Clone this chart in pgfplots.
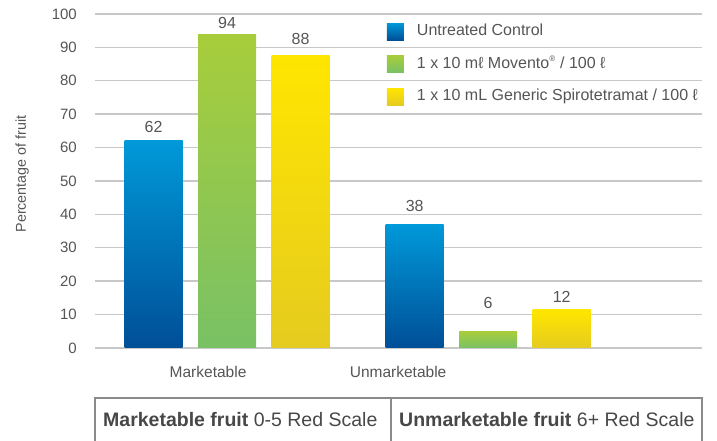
\documentclass[border=0pt]{standalone}
\usepackage{pgfplots}
\pgfplotsset{compat=1.18}
\usepackage{fontspec}
\setmainfont{Liberation Sans}
\definecolor{txt}{HTML}{555555}
\definecolor{tbltxt}{HTML}{474747}
\definecolor{gridc}{HTML}{C8C8C8}
\definecolor{tblline}{HTML}{8A8A8A}
\definecolor{blueT}{HTML}{0099D9}
\definecolor{blueB}{HTML}{004F97}
\definecolor{greenT}{HTML}{A8CD3B}
\definecolor{greenB}{HTML}{79C165}
\definecolor{yellowT}{HTML}{FFE600}
\definecolor{yellowB}{HTML}{E5CB1F}

\begin{document}
\begin{tikzpicture}[x=1pt,y=1pt]
\useasboundingbox (0,0) rectangle (717,441);
\begin{axis}[
  at={(95pt,93pt)}, anchor=south west,
  width=607pt, height=334pt, scale only axis,
  xmin=-0.506, xmax=1.819,
  ymin=0, ymax=100,
  ytick={0,10,...,100},
  xtick={-0.073,0.655},
  xticklabels={Marketable,Unmarketable},
  axis line style={draw=none},
  major tick length=0pt,
  ymajorgrids,
  grid style={line width=1.4pt, color=gridc},
  /pgf/number format/assume math mode=true,
  yticklabel style={font=\fontsize{15}{18}\selectfont, text=txt, inner sep=0pt, anchor=east, xshift=-18pt},
  xticklabel style={font=\fontsize{15.5}{18}\selectfont, text=txt, inner sep=0pt, anchor=base, yshift=-30pt},
  ylabel={Percentage of fruit},
  ylabel style={font=\fontsize{14.3}{17}\selectfont, text=txt, at={(axis description cs:-0.120,0.521)}, anchor=center},
  ybar,
  bar width=0.222,
  every axis plot post/.append style={
    legend image code/.code={\path[##1, draw=none] (0pt,-8.5pt) rectangle (17pt,8.5pt);}
  },
  nodes near coords,
  point meta=explicit symbolic,
  every node near coord/.append style={font=\fontsize{16}{19}\selectfont, text=txt, anchor=south},
  legend style={
    draw=none, fill=none, inner sep=0pt, outer sep=0pt,
    at={(axis description cs:0.481,0.973)}, anchor=north west,
    row sep=15.5pt,
    /tikz/every odd column/.append style={column sep=13pt},
    nodes={inner sep=0pt, text height=12pt, text depth=4pt, font=\fontsize{16}{19}\selectfont, text=txt},
  },
  legend cell align=left,
]
% Untreated Control
\addplot[draw=none, top color=blueT, bottom color=blueB, bar shift=-0.2816,
  every node near coord/.append style={yshift=4.4pt}] coordinates {(0,62) [62]};
\addlegendentry{Untreated Control}
\addplot[forget plot, draw=none, top color=blueT, bottom color=blueB, bar shift=-0.2816,
  every node near coord/.append style={yshift=9pt}] coordinates {(1,37) [38]};
% Movento
\addplot[draw=none, top color=greenT, bottom color=greenB, bar shift=0,
  every node near coord/.append style={yshift=1.5pt}] coordinates {(0,94) [94]};
\addlegendentry{1 x 10 m\char"2113\ Movento\textsuperscript{\fontsize{8}{9}\selectfont ®} / 100 \char"2113}
\addplot[forget plot, draw=none, top color=greenT, bottom color=greenB, bar shift=0,
  every node near coord/.append style={yshift=19.4pt}] coordinates {(1,5) [6]};
% Generic
\addplot[draw=none, top color=yellowT, bottom color=yellowB, bar shift=0.2816,
  every node near coord/.append style={yshift=7pt}] coordinates {(0,87.7) [88]};
\addlegendentry{1 x 10 mL Generic Spirotetramat / 100 \char"2113}
\addplot[forget plot, draw=none, top color=yellowT, bottom color=yellowB, bar shift=0.2816,
  every node near coord/.append style={yshift=4pt}] coordinates {(1,11.4) [12]};
\end{axis}
\draw[tblline, line width=1.2pt] (95,-2) -- (95,43) -- (702,43) -- (702,-2);
\draw[tblline, line width=1.2pt] (391,-2) -- (391,43);
\node[anchor=base west, inner sep=0pt, text=tbltxt, font=\fontsize{19.5}{23}\selectfont] at (103,14) {\textbf{Marketable fruit} 0-5 Red Scale};
\node[anchor=base west, inner sep=0pt, text=tbltxt, font=\fontsize{19.5}{23}\selectfont] at (399,14) {\textbf{Unmarketable fruit} 6+ Red Scale};
\end{tikzpicture}
\end{document}
